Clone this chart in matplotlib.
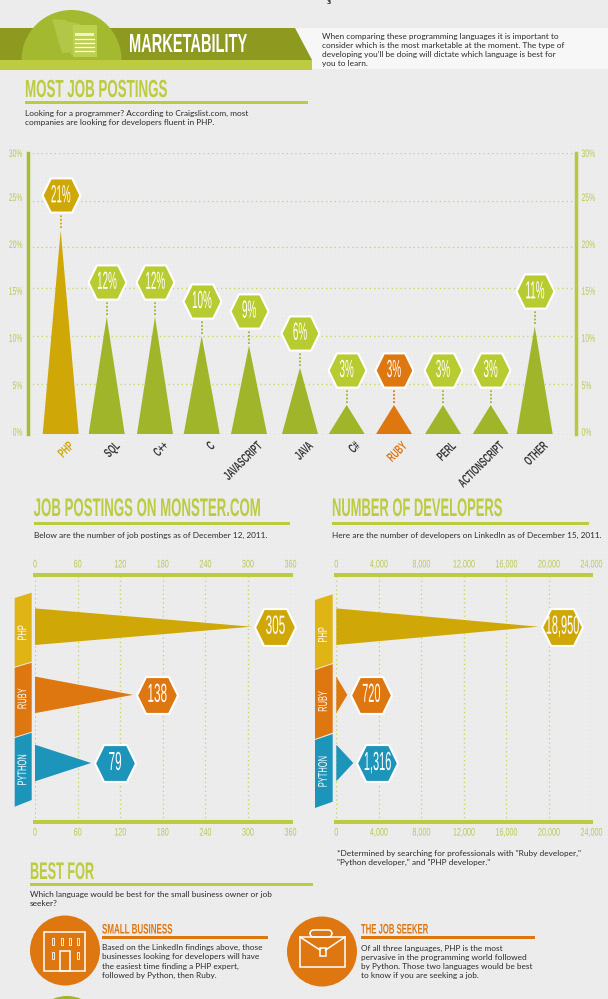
import matplotlib
matplotlib.use("Agg")
import numpy as np
import matplotlib.pyplot as plt
from matplotlib.patches import Polygon, Ellipse, Rectangle, FancyBboxPatch
from matplotlib.patheffects import AbstractPathEffect
from matplotlib.textpath import TextPath
from matplotlib.font_manager import FontProperties
from matplotlib.transforms import Affine2D, ScaledTranslation

# ---------- data ----------
job_langs = ["PHP", "SQL", "C++", "C", "JAVASCRIPT", "JAVA", "C#", "RUBY", "PERL", "ACTIONSCRIPT", "OTHER"]
job_shares = [21.8, 12, 12, 10, 9, 6.7, 2.9, 2.9, 2.9, 2.9, 11]
job_labels = ["21%", "12%", "12%", "10%", "9%", "6%", "3%", "3%", "3%", "3%", "11%"]
share_ticks = [0, 5, 10, 15, 20, 25, 30]
share_ticklabels = ["0%", "5%", "10%", "15%", "20%", "25%", "30%"]

row_langs = ["PHP", "RUBY", "PYTHON"]
monster_values = [305, 138, 79]
monster_labels = ["305", "138", "79"]
monster_ticks = [0, 60, 120, 180, 240, 300, 360]
dev_values = [19000, 1035, 1600]
dev_labels = ["18,950", "720", "1,316"]
dev_ticks = [0, 4000, 8000, 12000, 16000, 20000, 24000]
dev_ticklabels = ["0", "4,000", "8,000", "12,000", "16,000", "20,000", "24,000"]

# ---------- layout / style ----------
W, H = 608, 999
slot_px = [60.7, 106.7, 155, 201.7, 249, 300, 346.7, 394, 443, 490.7, 534.7]
share_grid_px = [0, 50, 98, 146, 187, 233.3, 281]   # the picture's gridlines are not evenly spaced
share_label_nudge = [2.3, -1, -1.7, -2.7, 3, 3.7, 0]
GOLD, ORANGE, BLUE = "#cfa808", "#de7710", "#1d95ba"
GREEN, LIME, TICK = "#a1b52a", "#b8cb30", "#b9c854"
RULE = "#bccb3f"
DARK = "#2a2a2a"
NARROW = ["Liberation Sans Narrow", "Liberation Sans"]
BODY = "Lato"
PX = 0.72  # points per pixel at dpi 100


class Condense(AbstractPathEffect):
    """Reshapes real text when it is drawn: sx about an anchor, sy about the baseline."""
    def __init__(self, sx=1.0, anchor="left", sy=1.0):
        super().__init__()
        self.sx, self.sy, self.anchor = sx, sy, anchor

    def draw_path(self, renderer, gc, tpath, affine, rgbFace=None):
        e = tpath.get_extents()
        p = {"left": 0, "center": (e.x0 + e.x1) / 2, "right": e.x1}[self.anchor]
        t = Affine2D().translate(-p, 0).scale(self.sx, self.sy).translate(p, 0) + affine
        renderer.draw_path(gc, tpath, t, rgbFace)


def fit(s, cap_px, width_px, weight="normal", family=NARROW):
    prop = FontProperties(family=family, weight=weight)
    cap = TextPath((0, 0), "H", size=100, prop=prop).get_extents().height
    fs = cap_px * PX / cap * 100
    w = TextPath((0, 0), s, size=fs, prop=prop).get_extents().width / PX
    return fs, width_px / w


fig = plt.figure(figsize=(W / 100, H / 100), dpi=100, facecolor="#ebebeb")
bg = fig.add_axes([0, 0, 1, 1], zorder=0)
bg.set_xlim(0, W)
bg.set_ylim(H, 0)
bg.axis("off")

# woven page texture
bg.vlines(range(0, W, 4), 0, H, color="#efefef", lw=0.5, zorder=0)
bg.hlines(range(0, H, 4), 0, W, color="#efefef", lw=0.5, zorder=0)


def head(x, base, s, cap, width, color=RULE, weight="bold"):
    # font size set by the width, the letters then stretched up to the cap height
    fs, sx = fit(s, cap, width, weight)
    bg.text(x, base, s, fontsize=fs * sx, color=color, family=NARROW, weight=weight,
            va="baseline", ha="left", path_effects=[Condense(1.0, "left", 1 / sx)], zorder=5)


def para(x, first, lines, step=9.2):
    for i, ln in enumerate(lines):
        bg.text(x, first + i * step, ln, fontsize=5.97, family=BODY, color=DARK,
                va="center", ha="left", zorder=5)


def rule(x0, x1, y, color=RULE, h=3):
    bg.add_patch(Rectangle((x0, y - h / 2), x1 - x0, h, color=color, lw=0, zorder=3))


# ---------- header band ----------
bg.text(327, 0.5, "3", fontsize=4.5, weight="bold", color=DARK, va="top", ha="left", zorder=5)
bg.add_patch(Polygon([(295, 28), (608, 28), (608, 69), (312, 69), (312, 60)], color="#f7f7f7", lw=0, zorder=1))
bg.add_patch(Polygon([(0, 28), (295, 28), (312, 60), (0, 60)], color="#8e991f", lw=0, zorder=2))
bg.add_patch(Rectangle((0, 60), 312, 9.5, color="#bccb3f", lw=0, zorder=2))
circle = Ellipse((71.5, 60), 100, 100, color="#a3b92f", lw=0, zorder=3)
bg.add_patch(circle)
circle.set_clip_path(Rectangle((0, 0), W, 60, transform=bg.transData))
bg.add_patch(Polygon([(52, 19), (66, 20), (75, 52), (62, 53)], color="#b2c648", lw=0, zorder=4))
bg.add_patch(Polygon([(66, 21), (80, 24), (80, 55), (71, 55)], color="#b2c648", lw=0, zorder=4))
bg.add_patch(Rectangle((72.5, 25), 24.5, 32, color="#bdd050", lw=0, zorder=4))
bg.add_patch(Rectangle((75, 32.5), 18.5, 3.5, color="#eef2d0", lw=0, zorder=5))
for yy in (39, 43, 47, 51):
    bg.plot([75, 93.5], [yy, yy], color="white", lw=0.9, zorder=5)
head(129, 52, "MARKETABILITY", 18, 117, color="white")
para(322, 36, ["When comparing these programming languages it is important to",
               "consider which is the most marketable at the moment. The type of",
               "developing you'll be doing will dictate which language is best for",
               "you to learn."])

# ---------- section headings ----------
head(25, 97, "MOST JOB POSTINGS", 17, 141)
rule(25, 308, 102)
para(25, 113, ["Looking for a programmer? According to Craigslist.com, most",
               "companies are looking for developers fluent in PHP."])
head(33.7, 516, "JOB POSTINGS ON MONSTER.COM", 17.5, 226)
rule(33.7, 290, 523)
para(33.7, 535, ["Below are the number of job postings as of December 12, 2011."])
head(332, 516, "NUMBER OF DEVELOPERS", 17.5, 169)
rule(332, 589, 523)
para(332, 535, ["Here are the number of developers on LinkedIn as of December 15, 2011."])
para(337, 853.5, ['*Determined by searching for professionals with "Ruby developer,"',
                  '"Python developer," and "PHP developer."'])
head(30, 879, "BEST FOR", 16.5, 63)
rule(30, 313, 884)
para(30, 894, ["Which language would be best for the small business owner or job", "seeker?"])

# ---------- best-for panels ----------
bg.add_patch(Ellipse((65, 950.5), 70, 70, color=ORANGE, lw=0, zorder=2))
bg.add_patch(Ellipse((322, 951.5), 70, 70, color=ORANGE, lw=0, zorder=2))
bg.add_patch(Ellipse((67, 1032), 72, 72, color=GREEN, lw=0, zorder=2))
wopt = dict(fill=False, ec="white", lw=1.1, zorder=4)
bg.add_patch(Rectangle((44, 932), 41, 38.5, **wopt))
for wx in (52, 61, 69, 77):
    bg.add_patch(Rectangle((wx, 937.5), 2, 7, fill=False, ec="white", lw=0.6, zorder=4))
for wx in (52, 77):
    bg.add_patch(Rectangle((wx, 952), 2, 7, fill=False, ec="white", lw=0.6, zorder=4))
bg.add_patch(Rectangle((60, 951), 10, 19.5, **wopt))
bg.add_patch(Rectangle((300, 937), 45, 30, **wopt))
bg.add_patch(FancyBboxPatch((310, 930), 22, 7, boxstyle="round,pad=0,rounding_size=4", **wopt))
bg.plot([300, 320], [937, 950], color="white", lw=1.1, zorder=4)
bg.plot([325.6, 345], [950, 937], color="white", lw=1.1, zorder=4)
bg.add_patch(Rectangle((320, 948), 5.6, 8, **wopt))
head(102, 933.5, "SMALL BUSINESS", 9.5, 70, color=ORANGE)
rule(102, 268, 937.8, color=ORANGE)
para(102, 947.7, ["Based on the LinkedIn findings above, those",
                  "businesses looking for developers will have",
                  "the easiest time finding a PHP expert,",
                  "followed by Python, then Ruby."])
head(361, 933.5, "THE JOB SEEKER", 9.5, 67, color=ORANGE)
rule(361, 535, 937.8, color=ORANGE)
para(361, 948.3, ["Of all three languages, PHP is the most",
                  "pervasive in the programming world followed",
                  "by Python. Those two languages would be best",
                  "to know if you are seeking a job."])

# ---------- shared helpers for the data axes ----------
HEX = [(1, 0), (.56, .9), (-.56, .9), (-1, 0), (-.56, -.9), (.56, -.9), (1, 0)]


def px_axes(x0, y0, x1, y1):
    ax = fig.add_axes([x0 / W, 1 - y1 / H, (x1 - x0) / W, (y1 - y0) / H], zorder=2)
    ax.patch.set_visible(False)
    return ax


def badge(ax, x, y, dx_px, dy_px, text, color, width_px, cap_px, sx):
    off = ScaledTranslation(dx_px / 100, dy_px / 100, fig.dpi_scale_trans)
    ax.plot([x], [y], marker=HEX, ms=width_px * PX, mfc=color, mec="white", mew=1.5,
            transform=ax.transData + off, clip_on=False, zorder=6, ls="none")
    fs = fit("H", cap_px, 10)[0]
    ax.annotate(text, (x, y), xytext=(dx_px * PX, dy_px * PX), textcoords="offset points",
                ha="center", va="center", color="white", fontsize=fs, family=NARROW,
                path_effects=[Condense(sx, "center")], zorder=7, annotation_clip=False)


def style_ticks(ax, axis, sx, left_anchor, right_anchor, cap=7.5):
    fs = fit("H", cap, 10)[0]
    for t in getattr(ax, axis).get_major_ticks():
        for lab, anc in ((t.label1, left_anchor), (t.label2, right_anchor)):
            lab.set_fontsize(fs)
            lab.set_family(NARROW)
            lab.set_color(TICK)
            lab.set_path_effects([Condense(sx, anc)])


# ---------- chart 1: most job postings ----------
ax1 = px_axes(28, 153, 576, 434)
ax1.set_xlim(28, 576)


def share_to_px(v):
    return np.interp(v, share_ticks, share_grid_px)


def px_to_share(p):
    return np.interp(p, share_grid_px, share_ticks)


ax1.set_yscale("function", functions=(share_to_px, px_to_share))
ax1.set_ylim(0, 30)
for x, v, lab, name in zip(slot_px, job_shares, job_labels, job_langs):
    col = GOLD if name == "PHP" else ORANGE if name == "RUBY" else GREEN
    hexc = GOLD if name == "PHP" else ORANGE if name == "RUBY" else LIME
    ax1.fill([x - 18, x, x + 18], [0, v, 0], color=col, lw=0, zorder=4)
    ax1.plot([x, x], [px_to_share(share_to_px(v) + 2), px_to_share(share_to_px(v) + 15)],
             color=col, lw=1.3, ls=(0, (1, 1)), zorder=3)
    badge(ax1, x, v, 0, 35, lab, hexc, 38, 17, 0.40)
ax1.set_yticks(share_ticks, share_ticklabels)
ax1.set_xticks(slot_px, job_langs)
ax1.minorticks_off()
ax1.grid(axis="y", color="#c4d35a", lw=0.9, ls=(0, (1, 2.5)), zorder=1)
ax1.set_axisbelow(True)
ax1.tick_params(axis="both", length=0)
ax1.tick_params(axis="y", labelright=True, pad=4)
ax1.tick_params(axis="x", pad=4.5)
for s in ("top", "bottom"):
    ax1.spines[s].set_visible(False)
ax1.spines["left"].set_color("#a9bc35")
ax1.spines["right"].set_color("#b9c93f")
ax1.spines["left"].set_linewidth(2.5)
ax1.spines["right"].set_linewidth(2.5)
style_ticks(ax1, "yaxis", 0.62, "right", "left")
for t, nudge in zip(ax1.yaxis.get_major_ticks(), share_label_nudge):
    tr = ScaledTranslation(0, nudge / 100, fig.dpi_scale_trans)
    t.label1.set_transform(t.label1.get_transform() + tr)
    t.label2.set_transform(t.label2.get_transform() + tr)
fsx, sxx = fit("JAVASCRIPT", 9, 48, "bold")
shift = ScaledTranslation(7.5 / 100, 0, fig.dpi_scale_trans)
for t, name in zip(ax1.xaxis.get_major_ticks(), job_langs):
    lab = t.label1
    lab.set_rotation(45)
    lab.set_rotation_mode("anchor")
    lab.set_ha("right")
    lab.set_va("top")
    lab.set_fontsize(fsx)
    lab.set_family(NARROW)
    lab.set_weight("bold")
    lab.set_color(GOLD if name == "PHP" else ORANGE if name == "RUBY" else "#3a3a3a")
    lab.set_path_effects([Condense(sxx, "right")])
    lab.set_transform(lab.get_transform() + shift)


# ---------- charts 2 and 3 ----------
def hbar_chart(box, values, labels, ticks, ticklabels, xmax, label_sx):
    ax = px_axes(*box)
    ax.set_xlim(0, xmax)
    top, bottom = box[1], box[3]
    step = 68.15
    ax.set_ylim((bottom - 626.7) / step, (top - 626.7) / step)
    for i, (v, lab, c) in enumerate(zip(values, labels, (GOLD, ORANGE, BLUE))):
        ax.fill([0, v, 0], [i - 18.3 / step, i, i + 18.3 / step], color=c, lw=0, zorder=4)
        badge(ax, v, i, 24, 0, lab, c, 41, 18, label_sx)
    ax.set_xticks(ticks, ticklabels)
    ax.set_yticks([])
    ax.grid(axis="x", color="#c4d35a", lw=0.9, ls=(0, (1, 2.5)), zorder=1)
    ax.set_axisbelow(True)
    ax.tick_params(axis="x", length=0, top=False, labeltop=True, labelbottom=True, pad=4)
    for s in ("left", "right"):
        ax.spines[s].set_visible(False)
    for s in ("top", "bottom"):
        ax.spines[s].set_color(RULE)
        ax.spines[s].set_linewidth(2.9)
    style_ticks(ax, "xaxis", 0.66, "center", "center")
    return ax


ax2 = hbar_chart((35, 575, 290.5, 822), monster_values, monster_labels, monster_ticks,
                 [str(t) for t in monster_ticks], 360, 0.45)
ax3 = hbar_chart((336.3, 575, 591.3, 822), dev_values, dev_labels, dev_ticks, dev_ticklabels, 24000, 0.42)


def ribbon(x0, x1, quads, centers, names, fills):
    xc = (x0 + x1) / 2
    fs, sx = fit("PYTHON", 8.7, 30)
    for q, yc, nm, c in zip(quads, centers, names, fills):
        bg.add_patch(Polygon([(x0, q[0]), (x1, q[1]), (x1, q[2]), (x0, q[3])], color=c, lw=0, zorder=2))
        bg.text(xc, yc, nm, rotation=90, rotation_mode="anchor", ha="center", va="center",
                fontsize=fs, family=NARROW, color="white",
                path_effects=[Condense(sx, "center")], zorder=5)


fills = ["#e0b414", ORANGE, BLUE]
ribbon(14.7, 31.7, [(598, 592.7, 661.7, 666.7), (667.7, 662.7, 731.7, 737), (738, 732.7, 800, 806.7)],
       [633, 699, 770], row_langs, fills)
ribbon(315, 332.7, [(600, 594.3, 663, 669), (670, 664, 732.7, 739), (740, 734, 801.7, 808)],
       [635, 701.7, 771.7], row_langs, fills)

fig.savefig("out.png", dpi=100, facecolor=fig.get_facecolor())
